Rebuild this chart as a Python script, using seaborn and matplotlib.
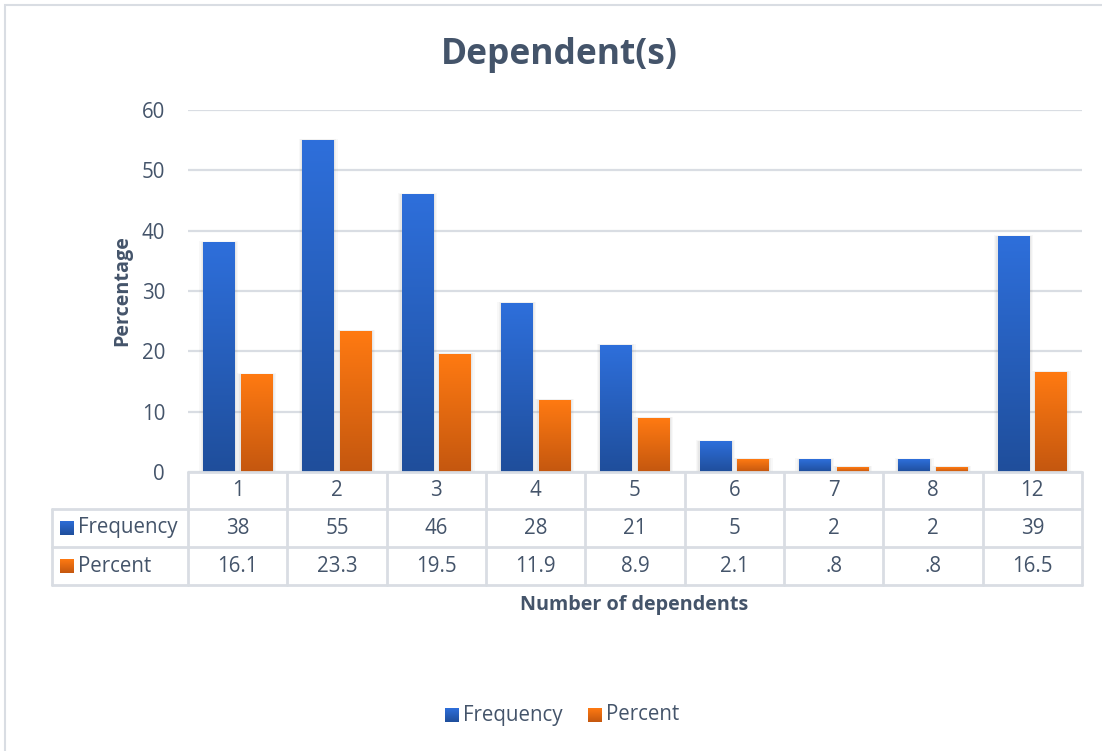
import numpy as np
import pandas as pd
import matplotlib
matplotlib.use("Agg")
import matplotlib.pyplot as plt
from matplotlib.colors import LinearSegmentedColormap
from matplotlib.patches import Rectangle
from matplotlib.lines import Line2D
import seaborn as sns

# ---- data ----
categories = ["1", "2", "3", "4", "5", "6", "7", "8", "12"]
frequency = [38, 55, 46, 28, 21, 5, 2, 2, 39]
percent = [16.1, 23.3, 19.5, 11.9, 8.9, 2.1, 0.8, 0.8, 16.5]
percent_labels = ["16.1", "23.3", "19.5", "11.9", "8.9", "2.1", ".8", ".8", "16.5"]
series_names = ["Frequency", "Percent"]
y_ticks = [0, 10, 20, 30, 40, 50, 60]

title = "Dependent(s)"
x_title = "Number of dependents"
y_title = "Percentage"

# ---- style ----
W, H = 1102, 751
TEXT = "#44546A"
GRID = "#D9DDE3"
FONT = "Open Sans"
grad_colors = {
    "Frequency": ("#1F4E9B", "#2E6FDB"),   # bottom, top
    "Percent": ("#C4570F", "#FF7A12"),
}

sns.set_theme(style="white")
plt.rcParams["font.family"] = [FONT, "DejaVu Sans"]

fig = plt.figure(figsize=(W / 100, H / 100), dpi=100)
fig.patch.set_facecolor("white")


def px_x(x):
    return x / W


def px_y(y):
    return 1 - y / H


# plot area in pixel coordinates
L, R, T, B = 188, 1082, 110, 472
ax = fig.add_axes([px_x(L), px_y(B), px_x(R) - px_x(L), px_y(T) - px_y(B)])

df = pd.DataFrame({
    "category": categories * 2,
    "value": frequency + percent,
    "series": ["Frequency"] * len(categories) + ["Percent"] * len(categories),
})

sns.barplot(data=df, x="category", y="value", hue="series", order=categories,
            hue_order=series_names, width=0.76, gap=0.16, dodge=True,
            palette={k: v[1] for k, v in grad_colors.items()},
            legend=False, ax=ax, zorder=3, linewidth=0, errorbar=None)

cell_fs = 14.8
ax.set_xlim(-0.5, len(categories) - 0.5)
ax.set_ylim(0, 60)
ax.set_yticks(y_ticks)
ax.set_yticklabels([str(t) for t in y_ticks], color=TEXT, fontsize=cell_fs)
ax.tick_params(axis="y", length=0, pad=16.5)
ax.set_xticks([])
ax.set_xlabel("")
ax.set_ylabel("")
for s in ax.spines.values():
    s.set_visible(False)
ax.yaxis.grid(True, color=GRID, linewidth=1.6, zorder=0)
ax.set_axisbelow(True)

# vertical gradient fill for each bar, with a soft shadow
cmaps = {k: LinearSegmentedColormap.from_list(k, v) for k, v in grad_colors.items()}
grad = np.linspace(0, 1, 256).reshape(-1, 1)
n = len(categories)
for i, patch in enumerate(ax.patches):
    name = series_names[i // n]
    x0, y0 = patch.get_x(), patch.get_y()
    w, h = patch.get_width(), patch.get_height()
    if h <= 0:
        continue
    for k, a in [(0.06, 0.05), (0.04, 0.06), (0.02, 0.08)]:
        ax.add_patch(Rectangle((x0 - k * 0.6, y0), w + k * 1.2, h + k * 4,
                               facecolor="#7F7F7F", alpha=a, linewidth=0, zorder=2))
    patch.set_facecolor("none")
    ax.imshow(grad, extent=[x0, x0 + w, y0, y0 + h], origin="lower",
              cmap=cmaps[name], aspect="auto", zorder=3)
ax.set_xlim(-0.5, len(categories) - 0.5)
ax.set_ylim(0, 60)

# ---- data table beneath the axis ----
line_kw = dict(color=GRID, linewidth=2.0, transform=fig.transFigure)
rows_y = [472, 509, 547, 585]
tbl_left = 52
col_w = (R - L) / n
fig.add_artist(Line2D([px_x(L), px_x(R)], [px_y(rows_y[0])] * 2, **line_kw))
for yy in rows_y[1:]:
    fig.add_artist(Line2D([px_x(tbl_left), px_x(R)], [px_y(yy)] * 2, **line_kw))
for k in range(n + 1):
    xx = L + k * col_w
    fig.add_artist(Line2D([px_x(xx)] * 2, [px_y(rows_y[0]), px_y(rows_y[-1])], **line_kw))
fig.add_artist(Line2D([px_x(tbl_left)] * 2, [px_y(rows_y[1]), px_y(rows_y[-1])], **line_kw))

row_texts = [categories, [str(v) for v in frequency], percent_labels]
for r, texts in enumerate(row_texts):
    yc = (rows_y[r] + rows_y[r + 1]) / 2
    for k, t in enumerate(texts):
        fig.text(px_x(L + (k + 0.5) * col_w), px_y(yc), t, ha="center", va="center",
                 color=TEXT, fontsize=cell_fs)


def gradient_key(x, y, size, name):
    kax = fig.add_axes([px_x(x), px_y(y + size), size / W, size / H])
    kax.imshow(grad, origin="lower", cmap=cmaps[name], aspect="auto",
               extent=[0, 1, 0, 1])
    kax.set_axis_off()


for r, name in enumerate(series_names):
    yc = (rows_y[r + 1] + rows_y[r + 2]) / 2
    gradient_key(60, yc - 7, 14, name)
    fig.text(px_x(78), px_y(yc), name, ha="left", va="center",
             color=TEXT, fontsize=cell_fs)

# ---- titles ----
fig.text(px_x(559), px_y(55), title, ha="center", va="center",
         color=TEXT, fontsize=25.5, fontweight="bold")
fig.text(px_x(634), px_y(605), x_title, ha="center", va="center",
         color=TEXT, fontsize=14.2, fontweight="bold")
fig.text(px_x(122), px_y(291), y_title, ha="center", va="center", rotation=90,
         color=TEXT, fontsize=14.2, fontweight="bold")

# ---- bottom legend ----
legend_items = [(445, 463, "Frequency"), (588, 606, "Percent")]
for kx, tx, name in legend_items:
    gradient_key(kx, 715 - 7, 14, name)
    fig.text(px_x(tx), px_y(715), name, ha="left", va="center",
             color=TEXT, fontsize=cell_fs)

# chart border
fig.add_artist(Rectangle((px_x(5), px_y(H + 10)), px_x(W + 10) - px_x(5),
                         px_y(5) - px_y(H + 10), transform=fig.transFigure,
                         fill=False, edgecolor=GRID, linewidth=1.5))

fig.savefig("out.png", dpi=100, facecolor="white")
